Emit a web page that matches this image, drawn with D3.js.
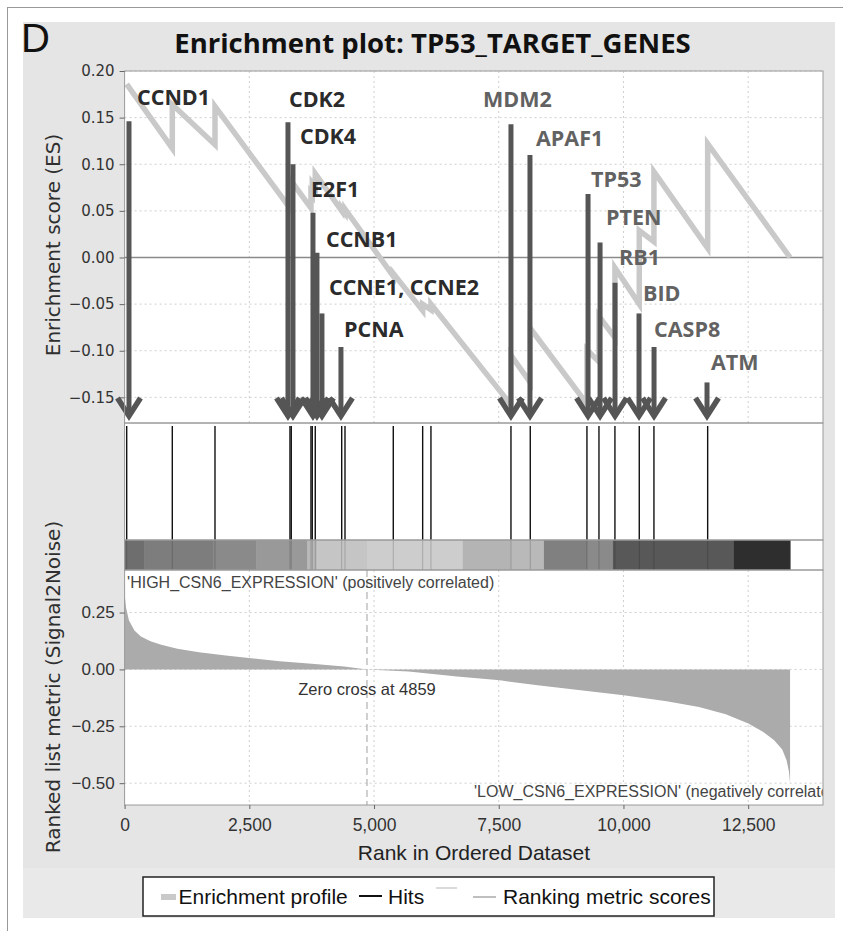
<!DOCTYPE html>
<html>
<head>
<meta charset="utf-8">
<script src="https://cdn.jsdelivr.net/npm/d3@7"></script>
<style>
    html, body { margin: 0; padding: 0; background: #fff; }
    svg { display: block; }
    .sans { font-family: 'Liberation Sans', Arial, sans-serif; }
    .vera { font-family: 'DejaVu Sans', sans-serif; }
    .bold { font-family: 'Open Sans', 'DejaVu Sans', sans-serif; font-weight: 700; }
</style>
</head>
<body>
<div id="chart"></div>
<script>
// hit positions (rank in ordered dataset)
var hitRanks = [42, 956, 1812, 3315, 3341, 3736, 3762, 3822, 4352, 4418, 5386,
    5975, 6141, 7745, 8132, 9268, 9509, 9829, 10317, 10611, 11688]

// running enrichment score, vertices
var esRanks = [42, 956, 956, 1812, 1812, 3315, 3315, 3341, 3341, 3736, 3736,
    3762, 3762, 3822, 3822, 4352, 4352, 4418, 4418, 5386, 5386, 5975, 5975,
    6141, 6141, 7745, 7745, 8132, 8132, 9268, 9268, 9509, 9509, 9829, 9829,
    10317, 10317, 10611, 10611, 11688, 11688, 13340]
var esScores = [0.186, 0.117, 0.164, 0.121, 0.162, 0.053, 0.068, 0.066, 0.082,
    0.053, 0.069, 0.067, 0.080, 0.076, 0.090, 0.050, 0.053, 0.048, 0.052,
    -0.020, -0.017, -0.057, -0.050, -0.056, -0.050, -0.158, -0.105, -0.134,
    -0.076, -0.157, -0.099, -0.112, -0.063, -0.086, -0.011, -0.050, 0.029,
    0.017, 0.092, 0.010, 0.122, 0.0]

// annotated genes
var genes = ['CCND1', 'CDK2', 'CDK4', 'E2F1', 'CCNB1', 'CCNE1, CCNE2', 'PCNA',
    'MDM2', 'APAF1', 'TP53', 'PTEN', 'RB1', 'BID', 'CASP8', 'ATM']
var geneRanks = [88, 3275, 3375, 3776, 3856, 3956, 4337, 7745, 8126, 9290,
    9531, 9831, 10312, 10613, 11675]
var geneTops = [0.146, 0.145, 0.100, 0.048, 0.005, -0.060, -0.096, 0.143,
    0.110, 0.068, 0.016, -0.027, -0.060, -0.096, -0.134]

// ranked list metric (Signal2Noise)
var metricRanks = [0, 30, 88, 197, 326, 520, 735, 1058, 1490, 2028, 2493,
    3107, 3752, 4400, 4859, 5693, 6663, 7525, 8279, 9140, 10004, 10866, 11513,
    12051, 12503, 12804, 13021, 13183, 13270, 13318, 13340]
var metricValues = [0.33, 0.27, 0.215, 0.171, 0.145, 0.124, 0.108, 0.091,
    0.076, 0.061, 0.050, 0.036, 0.025, 0.013, 0.0, -0.009, -0.031, -0.048,
    -0.070, -0.092, -0.114, -0.140, -0.165, -0.197, -0.238, -0.275, -0.311,
    -0.352, -0.399, -0.45, -0.50]

// heat bar: rank breaks and grey level of each band
var heatBreaks = [0, 390, 1780, 2640, 3660, 3860, 4860, 6780, 7725, 8406,
    9268, 9789, 12214, 13340]
var heatLevels = [110, 125, 138, 153, 185, 197, 205, 180, 185, 128, 138, 88, 46]

var esTicks = [-0.15, -0.10, -0.05, 0.00, 0.05, 0.10, 0.15, 0.20]
var metricTicks = [-0.50, -0.25, 0.00, 0.25]
var rankTicks = [0, 2500, 5000, 7500, 10000, 12500]
var zeroCross = 4859

var W = 843, H = 931,
    left = 124.6, right = 823,
    esTop = 71, esBottom = 423,
    hitBottom = 540, barBottom = 570, metBottom = 805,
    gridColor = '#cfcfcf',
    frameColor = '#9a9a9a'

var svg = d3.select('#chart').append('svg')
    .attr('width', W)
    .attr('height', H)

// фон
svg.append('line').attr('x1', 7).attr('x2', W).attr('y1', 7.5).attr('y2', 7.5)
    .style('stroke', '#999')
svg.append('line').attr('x1', 7.5).attr('x2', 7.5).attr('y1', 7).attr('y2', H)
    .style('stroke', '#999')
svg.append('rect').attr('x', 23).attr('y', 22).attr('width', 812).attr('height', 896)
    .style('fill', '#e5e5e5')
svg.append('rect').attr('x', 23).attr('y', 868).attr('width', 812).attr('height', 50)
    .style('fill', '#e9e9e9')

var x = d3.scaleLinear().domain([0, 14000]).range([left, right])
var yEs = d3.scaleLinear().domain([-0.1775, 0.2]).range([esBottom, esTop])
var yMet = d3.scaleLinear().domain([-0.596, 0.437]).range([metBottom, barBottom])

// white plot area
svg.append('rect')
    .attr('x', left).attr('y', esTop)
    .attr('width', right - left).attr('height', metBottom - esTop)
    .style('fill', '#fff')

svg.append('clipPath').attr('id', 'plotClip')
    .append('rect').attr('x', left).attr('y', esTop)
    .attr('width', right - left).attr('height', metBottom - esTop)

// grid, top panel
var gTop = svg.append('g')
gTop.selectAll('.vg').data(rankTicks.slice(1)).enter().append('line')
    .attr('x1', function (d) { return x(d) }).attr('x2', function (d) { return x(d) })
    .attr('y1', esTop).attr('y2', esBottom)
    .style('stroke', gridColor).style('stroke-dasharray', '2,3')
gTop.selectAll('.hg').data(esTicks.filter(function (d) { return d !== 0 })).enter().append('line')
    .attr('x1', left).attr('x2', right)
    .attr('y1', function (d) { return yEs(d) }).attr('y2', function (d) { return yEs(d) })
    .style('stroke', gridColor).style('stroke-dasharray', '2,3')
gTop.append('line')
    .attr('x1', left).attr('x2', right)
    .attr('y1', yEs(0)).attr('y2', yEs(0))
    .style('stroke', '#8a8a8a').style('stroke-width', 1.5)

// enrichment profile
var esPts = esRanks.map(function (r, i) { return [r, esScores[i]] })
svg.append('path')
    .datum(esPts)
    .attr('d', d3.line().x(function (d) { return x(d[0]) }).y(function (d) { return yEs(d[1]) }))
    .style('fill', 'none')
    .style('stroke', '#c9c9c9')
    .style('stroke-width', 5.5)
    .style('stroke-linejoin', 'miter')

// arrows with gene names
var labelDx = [8, 1, 7, -2, 9, 7, 3, -28, 6, 3, 6, 4, 4, 0, 4],
    labelDy = [-24, -23, -28, -23, -14, -26, -18, -25, -17, -15, -25, -25, -20, -18, -20]
var tipY = 418
var arrows = svg.append('g')
genes.forEach(function (g, i) {
    var ax = x(geneRanks[i]), ay = yEs(geneTops[i])
    arrows.append('line')
        .attr('x1', ax).attr('x2', ax)
        .attr('y1', ay).attr('y2', tipY - 3)
        .style('stroke', '#555').style('stroke-width', 5)
    arrows.append('path')
        .attr('d', d3.line()([[ax - 11.5, tipY - 20], [ax, tipY - 2], [ax + 11.5, tipY - 20]]))
        .style('fill', 'none').style('stroke', '#555').style('stroke-width', 5.5)
        .style('stroke-linejoin', 'miter')
})
genes.forEach(function (g, i) {
    arrows.append('text')
        .attr('class', 'bold')
        .attr('x', x(geneRanks[i]) + labelDx[i])
        .attr('y', yEs(geneTops[i]) + labelDy[i])
        .attr('dy', '0.36em')
        .style('font-size', '21.5px')
        .style('fill', geneRanks[i] < 6000 ? '#2b2b2b' : '#626262')
        .text(g)
})

// hits
svg.selectAll('.hit').data(hitRanks).enter().append('line')
    .attr('x1', function (d) { return x(d) }).attr('x2', function (d) { return x(d) })
    .attr('y1', esBottom + 3).attr('y2', hitBottom)
    .style('stroke', '#111').style('stroke-width', 1.4)

// heat bar
var bands = heatLevels.map(function (v, i) { return [heatBreaks[i], heatBreaks[i + 1], v] })
svg.selectAll('.band').data(bands).enter().append('rect')
    .attr('x', function (d) { return x(d[0]) })
    .attr('width', function (d) { return x(d[1]) - x(d[0]) + 0.5 })
    .attr('y', hitBottom).attr('height', barBottom - hitBottom)
    .style('fill', function (d) { return d3.rgb(d[2], d[2], d[2]) })
svg.selectAll('.hitBar').data(hitRanks).enter().append('line')
    .attr('x1', function (d) { return x(d) }).attr('x2', function (d) { return x(d) })
    .attr('y1', hitBottom).attr('y2', barBottom)
    .style('stroke', '#000').style('stroke-width', 1).style('opacity', 0.18)

// grid, bottom panel
var gBot = svg.append('g')
gBot.selectAll('.vg').data(rankTicks.slice(1)).enter().append('line')
    .attr('x1', function (d) { return x(d) }).attr('x2', function (d) { return x(d) })
    .attr('y1', barBottom).attr('y2', metBottom)
    .style('stroke', gridColor).style('stroke-dasharray', '2,3')
gBot.selectAll('.hg').data(metricTicks).enter().append('line')
    .attr('x1', left).attr('x2', right)
    .attr('y1', function (d) { return yMet(d) }).attr('y2', function (d) { return yMet(d) })
    .style('stroke', gridColor).style('stroke-dasharray', '2,3')

// ranked list metric
var metPts = metricRanks.map(function (r, i) { return [r, metricValues[i]] })
svg.append('path')
    .datum(metPts)
    .attr('d', d3.area()
        .x(function (d) { return x(d[0]) })
        .y0(yMet(0))
        .y1(function (d) { return yMet(d[1]) }))
    .style('fill', '#ababab')

svg.append('line')
    .attr('x1', x(zeroCross)).attr('x2', x(zeroCross))
    .attr('y1', barBottom).attr('y2', metBottom)
    .style('stroke', '#a0a0a0').style('stroke-dasharray', '7,4')

svg.append('text').attr('class', 'sans')
    .attr('x', x(zeroCross)).attr('y', 695)
    .attr('text-anchor', 'middle')
    .style('font-size', '16.5px').style('fill', '#333')
    .text('Zero cross at ' + zeroCross)

svg.append('text').attr('class', 'sans')
    .attr('x', left + 2.5).attr('y', 588)
    .style('font-size', '16px').style('fill', '#444')
    .text("'HIGH_CSN6_EXPRESSION' (positively correlated)")
svg.append('text').attr('class', 'sans')
    .attr('clip-path', 'url(#plotClip)')
    .attr('x', 474).attr('y', 797)
    .style('font-size', '16px').style('fill', '#444')
    .text("'LOW_CSN6_EXPRESSION' (negatively correlated)")

// frames
;[[esTop, esBottom], [esBottom, hitBottom], [hitBottom, barBottom], [barBottom, metBottom]].forEach(function (p) {
    svg.append('rect')
        .attr('x', left).attr('y', p[0])
        .attr('width', right - left).attr('height', p[1] - p[0])
        .style('fill', 'none').style('stroke', frameColor)
})

// axes
function styleAxis(g, cls, size) {
    g.select('.domain').remove()
    g.selectAll('.tick line').attr('stroke', '#666')
    g.selectAll('.tick text')
        .attr('class', cls)
        .style('font-size', size)
        .attr('fill', '#333')
}
svg.append('g')
    .attr('transform', 'translate(' + left + ',0)')
    .call(d3.axisLeft(yEs).tickValues(esTicks).tickFormat(d3.format('.2f')).tickSize(5).tickPadding(5))
    .call(styleAxis, 'vera', '15px')
svg.append('g')
    .attr('transform', 'translate(' + left + ',0)')
    .call(d3.axisLeft(yMet).tickValues(metricTicks).tickFormat(d3.format('.2f')).tickSize(5).tickPadding(5))
    .call(styleAxis, 'sans', '17px')
svg.append('g')
    .attr('transform', 'translate(0,' + metBottom + ')')
    .call(d3.axisBottom(x).tickValues(rankTicks).tickFormat(d3.format(',')).tickSize(4).tickPadding(10))
    .call(styleAxis, 'sans', '17.5px')

// axis titles
svg.append('text').attr('class', 'vera')
    .attr('transform', 'translate(60,245) rotate(-90)')
    .attr('text-anchor', 'middle')
    .style('font-size', '20px').style('fill', '#2f2f2f')
    .text('Enrichment score (ES)')
svg.append('text').attr('class', 'vera')
    .attr('transform', 'translate(60,687) rotate(-90)')
    .attr('text-anchor', 'middle')
    .style('font-size', '20px').style('fill', '#2f2f2f')
    .text('Ranked list metric (Signal2Noise)')
svg.append('text').attr('class', 'sans')
    .attr('x', 474).attr('y', 860)
    .attr('text-anchor', 'middle')
    .style('font-size', '21px').style('fill', '#222')
    .text('Rank in Ordered Dataset')

// title
svg.append('text').attr('class', 'sans')
    .attr('x', 21).attr('y', 52)
    .style('font-size', '40px').style('fill', '#111')
    .text('D')
svg.append('text').attr('class', 'bold')
    .attr('x', 432.5).attr('y', 53)
    .attr('text-anchor', 'middle')
    .style('font-size', '27.5px').style('fill', '#111')
    .text('Enrichment plot: TP53_TARGET_GENES')

// legend
var lg = svg.append('g').attr('class', 'sans').style('font-size', '21px').style('fill', '#111')
lg.append('rect').attr('x', 143).attr('y', 877).attr('width', 571).attr('height', 39)
    .style('fill', '#fff').style('stroke', '#222').style('stroke-width', 1.5)
lg.append('line').attr('x1', 161).attr('x2', 176).attr('y1', 897).attr('y2', 897)
    .style('stroke', '#c9c9c9').style('stroke-width', 6)
lg.append('text').attr('x', 178.5).attr('y', 904).text('Enrichment profile')
lg.append('line').attr('x1', 359).attr('x2', 382).attr('y1', 896).attr('y2', 896)
    .style('stroke', '#111').style('stroke-width', 2)
lg.append('text').attr('x', 388).attr('y', 904).text('Hits')
lg.append('line').attr('x1', 436).attr('x2', 457).attr('y1', 888).attr('y2', 888)
    .style('stroke', '#cfcfcf').style('stroke-width', 1.5)
lg.append('line').attr('x1', 473).attr('x2', 496).attr('y1', 897).attr('y2', 897)
    .style('stroke', '#aaa').style('stroke-width', 1.5)
lg.append('text').attr('x', 503).attr('y', 904).text('Ranking metric scores')
</script>
</body>
</html>
